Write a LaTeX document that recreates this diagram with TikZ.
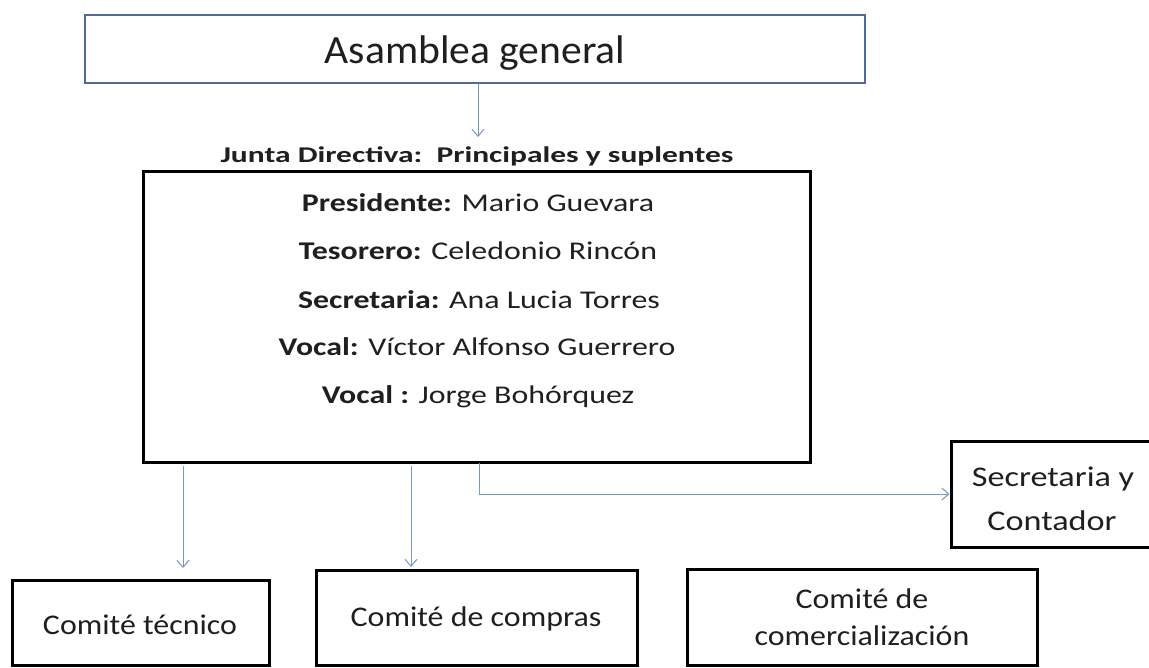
\documentclass[tikz,border=0pt]{standalone}
\usepackage{fontspec}
\setmainfont{Carlito}
\newfontfamily\stretchA[FakeStretch=1.04]{Carlito}
\newfontfamily\stretchB[FakeStretch=1.12]{Carlito}
\newfontfamily\stretchC[FakeStretch=1.25]{Carlito}
\newfontfamily\stretchD[FakeStretch=1.4]{Carlito}
\newfontfamily\stretchE[FakeStretch=1.2]{Carlito}
\usetikzlibrary{arrows.meta}
\definecolor{asamblue}{RGB}{79,107,150}
\definecolor{arrblue}{RGB}{120,150,200}
\tikzset{
  box/.style={draw=black, line width=3pt, inner sep=0pt},
  arr/.style={draw=arrblue, line width=1pt, -{Straight Barb[length=7pt,width=12pt,line width=1pt]}},
  lbl/.style={inner sep=0pt, anchor=base, text=black!88},
  mem/.style={lbl, font=\stretchC\fontsize{25.5}{30}\selectfont},
  low/.style={lbl, font=\stretchB\fontsize{28.5}{32}\selectfont},
  side/.style={lbl, font=\stretchE\fontsize{28.5}{32}\selectfont},
}
\begin{document}
\begin{tikzpicture}[x=1pt,y=-1pt]
\clip (0,0) rectangle (1149,667);
\fill[white] (0,0) rectangle (1149,667);
% boxes
\node[box, draw=asamblue, line width=2.8pt, minimum width=780pt, minimum height=68pt] (asam) at (475,49) {};
\node[lbl, font=\stretchA\fontsize{40}{48}\selectfont] (asamt) at (475,63) {Asamblea general};
\node[lbl, font=\stretchD\fontsize{22.5}{28}\selectfont\bfseries] (jlab) at (477,162) {Junta Directiva:\ \ Principales y suplentes};
\node[box, minimum width=667pt, minimum height=291pt] (junta) at (476.5,316.5) {};
\node[mem] (p1) at (478,211) {\textbf{Presidente:} Mario Guevara};
\node[mem] (p2) at (478,259) {\textbf{Tesorero:} Celedonio Rincón};
\node[mem] (p3) at (479,308) {\textbf{Secretaria:} Ana Lucia Torres};
\node[mem] (p4) at (477,355) {\textbf{Vocal:} Víctor Alfonso Guerrero};
\node[mem] (p5) at (478,403) {\textbf{Vocal :} Jorge Bohórquez};
\node[box, minimum width=204pt, minimum height=106pt] (secr) at (1053,494) {};
\node[side] (s1) at (1053,486) {Secretaria y};
\node[side] (s2) at (1052,530) {Contador};
\node[box, minimum width=257pt, minimum height=85pt] (tec) at (140.5,622.5) {};
\node[low] (tect) at (140,634) {Comité técnico};
\node[box, minimum width=321pt, minimum height=95pt] (comp) at (476.5,617.5) {};
\node[low] (compt) at (476,626) {Comité de compras};
\node[box, minimum width=350pt, minimum height=96pt] (come) at (862,617) {};
\node[low] (come1) at (862,608) {Comité de};
\node[low] (come2) at (862,645) {comercialización};
% connectors
\coordinate (a1) at (478,137);
\draw[arr] (asam.south -| a1) -- (a1);
\coordinate (t0) at (183,466);
\coordinate (t1) at (183,568);
\draw[arr] (t0) -- (t1);
\coordinate (c0) at (411,466);
\coordinate (c1) at (411,567);
\draw[arr] (c0) -- (c1);
\coordinate (r0) at (479,463);
\draw[arr] (r0) |- (secr.west);
\end{tikzpicture}
\end{document}
